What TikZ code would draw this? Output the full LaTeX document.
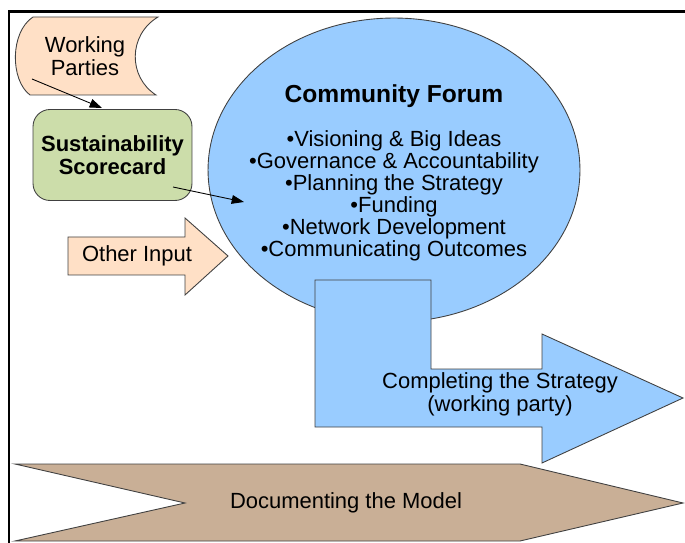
\documentclass[tikz,border=0pt]{standalone}
\usepackage{fontspec}
\setmainfont{Liberation Sans}
\usetikzlibrary{arrows.meta,shapes.geometric,positioning}
\definecolor{peach}{HTML}{FFE0C6}
\definecolor{sky}{HTML}{99CCFF}
\definecolor{sage}{HTML}{CCDDAA}
\definecolor{mdltan}{HTML}{C9AF96}

\begin{document}
\begin{tikzpicture}[x=0.02cm,y=-0.02cm,
    outl/.style={draw=black!75,line width=0.5pt},
    lbl/.style={font=\fontsize{12.5}{13}\selectfont,align=center},
    conn/.style={-{Triangle[length=7pt,width=5pt]},line width=0.5pt}]
    \useasboundingbox (0,0) rectangle (685,543);
    \draw [line width=1.7pt] (9,543) -- (9,12) -- (685,12);

    % input shapes
    \filldraw [outl,fill=peach] (33,17) -- (158,17)
        .. controls (128,35) and (128,77) .. (156,95) -- (30,95)
        .. controls (10,80) and (10,32) .. cycle;
    \node [lbl] (wp) at (85,56) {Working\\Parties};
    \node [outl,fill=sage,rounded corners=0.34cm,minimum width=3.18cm,
        minimum height=1.82cm,lbl,font=\fontsize{12.5}{13}\selectfont\bfseries]
        (ssc) at (112.5,155) {Sustainability\\Scorecard};
    \filldraw [outl,fill=peach] (68,237) -- (185,237) -- (185,218) -- (228,256)
        -- (185,295) -- (185,275) -- (68,275) -- cycle;
    \node [lbl] (oin) at (137,256) {Other Input};

    % forum
    \node [outl,fill=sky,ellipse,inner sep=0pt,minimum width=7.44cm,
        minimum height=6.08cm] (forum) at (394,170) {};
    \node [font=\fontsize{14}{16}\selectfont\bfseries] (cftitle) at (394,96) {Community Forum};
    \foreach \t [count=\i from 0] in {Visioning \& Big Ideas,
            Governance \& Accountability,Planning the Strategy,Funding,
            Network Development,Communicating Outcomes}
        \node [lbl,anchor=base] (cf\i) at (394,147+22*\i) {•\t};

    % outputs
    \filldraw [outl,fill=mdltan] (15,464) -- (520,464) -- (683,503) -- (520,541)
        -- (15,541) -- (185,503) -- cycle;
    \node [lbl] (doc) at (346,503) {Documenting the Model};
    \filldraw [outl,fill=sky] (315,280) -- (431,280) -- (431,369) -- (542,369)
        -- (542,334) -- (683,398) -- (542,463) -- (542,427) -- (315,427) -- cycle;
    \node [lbl] (cmp) at (500,394) {Completing the Strategy\\(working party)};

    % connectors
    \coordinate (wpfoot) at (32,79);
    \coordinate (ssctop) at (102,108);
    \coordinate (sscout) at (173,187);
    \coordinate (forumin) at (244,202);
    \draw [conn] (wpfoot) -- (ssctop);
    \draw [conn] (sscout) -- (forumin);
\end{tikzpicture}
\end{document}
